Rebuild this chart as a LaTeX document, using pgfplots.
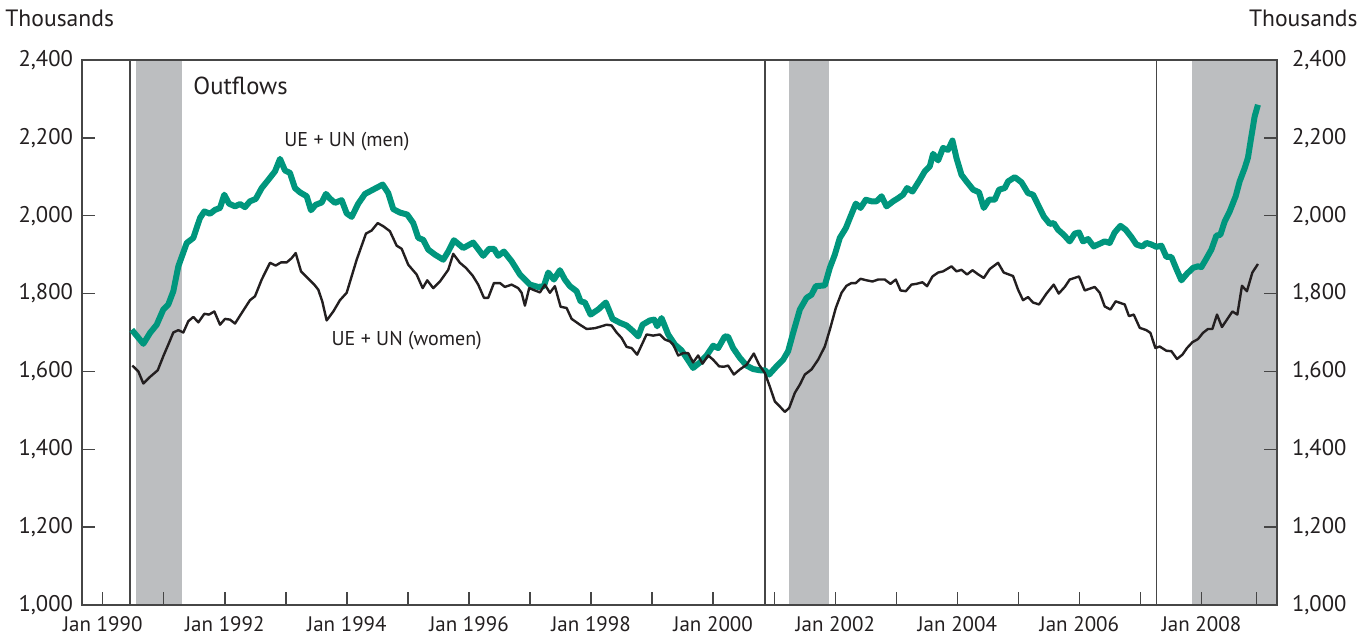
\documentclass[border=0pt]{standalone}
\usepackage{fontspec}
\setmainfont{PT Sans}
\usepackage{pgfplots}
\pgfplotsset{compat=1.18}
\definecolor{men}{RGB}{0,150,125}
\definecolor{shade}{RGB}{188,190,192}
\definecolor{ink}{RGB}{35,31,32}
\definecolor{axl}{RGB}{70,70,70}

\begin{document}
\begin{tikzpicture}
\useasboundingbox (-41pt,-18pt) rectangle (644pt,302.5pt);
\pgfplotsset{
  base/.style={
    at={(0,0)}, anchor=south west, scale only axis,
    width=597.5pt, height=272.5pt,
    xmin=1989.66, xmax=2009.237, ymin=1000, ymax=2400,
    ytick={1000,1200,1400,1600,1800,2000,2200,2400},
    yticklabels={{1,000},{1,200},{1,400},{1,600},{1,800},{2,000},{2,200},{2,400}},
    ticklabel style={font=\fontsize{10.5}{12}\selectfont, text=ink},
    yticklabel style={font=\fontsize{11.3}{13}\selectfont},
    /pgf/number format/assume math mode=true,
  }
}
\begin{axis}[base,
  axis on top,
  axis line style={axl, line width=0.7pt},
  tick align=inside, tick style={axl, line width=0.7pt}, major tick length=6.5pt,
  xtick={1990,1991,1992,1993,1994,1995,1996,1997,1998,1999,2000,2001,2002,2003,2004,2005,2006,2007,2008,2008.9},
  xticklabels={Jan 1990,,Jan 1992,,Jan 1994,,Jan 1996,,Jan 1998,,Jan 2000,,Jan 2002,,Jan 2004,,Jan 2006,,Jan 2008,},
  xtick pos=bottom, ytick pos=both, yticklabel pos=left,
  xticklabel style={yshift=-2pt},
  yticklabel style={xshift=-1pt},
]
% recession shading
\addplot[draw=none, fill=shade] coordinates {(1990.55,1000)(1990.55,2400)(1991.30,2400)(1991.30,1000)} -- cycle;
\addplot[draw=none, fill=shade] coordinates {(2001.24,1000)(2001.24,2400)(2001.89,2400)(2001.89,1000)} -- cycle;
\addplot[draw=none, fill=shade] coordinates {(2007.84,1000)(2007.84,2400)(2009.237,2400)(2009.237,1000)} -- cycle;
% peak lines
\addplot[axl, line width=0.8pt] coordinates {(1990.45,1000)(1990.45,2400)};
\addplot[axl, line width=0.8pt] coordinates {(2000.85,1000)(2000.85,2400)};
\addplot[axl, line width=0.8pt] coordinates {(2007.26,1000)(2007.26,2400)};
% men
\addplot[men, line width=3pt, line join=round] coordinates {
(1990.475,1707)(1990.665,1671)(1990.775,1699)(1990.884,1720)(1990.992,1759)(1991.074,1772)(1991.156,1806)(1991.238,1870)(1991.376,1930)(1991.484,1943)
(1991.593,1994)(1991.664,2011)(1991.757,2005)(1991.839,2015)(1991.921,2020)(1991.991,2054)(1992.068,2031)(1992.167,2024)(1992.249,2030)(1992.330,2022)
(1992.412,2037)(1992.506,2043)(1992.604,2071)(1992.712,2092)(1992.822,2114)(1992.904,2146)(1992.986,2116)(1993.067,2110)(1993.149,2071)(1993.231,2060)
(1993.341,2050)(1993.411,2014)(1993.488,2028)(1993.587,2034)(1993.657,2056)(1993.722,2044)(1993.804,2033)(1993.914,2040)(1993.996,2006)(1994.078,1997)
(1994.186,2031)(1994.296,2056)(1994.405,2065)(1994.513,2074)(1994.586,2080)(1994.677,2058)(1994.759,2017)(1994.869,2008)(1994.988,2003)(1995.087,1981)
(1995.169,1943)(1995.250,1938)(1995.332,1913)(1995.442,1900)(1995.578,1887)(1995.660,1908)(1995.753,1937)(1995.906,1917)(1996.069,1931)(1996.233,1897)
(1996.331,1915)(1996.408,1915)(1996.479,1897)(1996.572,1908)(1996.698,1883)(1996.834,1849)(1996.998,1823)(1997.134,1817)(1997.227,1819)(1997.298,1854)
(1997.391,1836)(1997.489,1860)(1997.571,1836)(1997.653,1819)(1997.763,1806)(1997.828,1780)(1997.899,1777)(1997.992,1746)(1998.116,1759)(1998.242,1777)
(1998.352,1735)(1998.472,1725)(1998.582,1718)(1998.690,1703)(1998.771,1690)(1998.843,1720)(1998.963,1731)(1999.034,1733)(1999.083,1716)(1999.155,1737)
(1999.263,1695)(1999.373,1669)(1999.482,1654)(1999.564,1635)(1999.672,1609)(1999.782,1623)(1999.892,1641)(2000.000,1666)(2000.082,1660)(2000.191,1690)
(2000.245,1689)(2000.327,1660)(2000.437,1635)(2000.547,1615)(2000.655,1606)(2000.765,1603)(2000.847,1603)(2000.917,1592)(2001.038,1613)(2001.146,1630)
(2001.228,1652)(2001.310,1699)(2001.420,1759)(2001.530,1789)(2001.611,1797)(2001.682,1819)(2001.829,1821)(2001.911,1866)(2001.993,1900)(2002.075,1943)
(2002.173,1968)(2002.250,1998)(2002.337,2031)(2002.414,2020)(2002.501,2041)(2002.594,2037)(2002.676,2037)(2002.758,2050)(2002.840,2024)(2002.948,2037)
(2003.030,2045)(2003.111,2054)(2003.177,2071)(2003.265,2062)(2003.385,2092)(2003.467,2114)(2003.549,2127)(2003.603,2159)(2003.685,2142)(2003.766,2174)
(2003.848,2169)(2003.920,2193)(2003.986,2148)(2004.068,2105)(2004.150,2088)(2004.258,2067)(2004.356,2060)(2004.433,2020)(2004.520,2041)(2004.613,2041)
(2004.684,2067)(2004.777,2071)(2004.831,2088)(2004.941,2099)(2005.050,2086)(2005.158,2058)(2005.240,2054)(2005.322,2028)(2005.416,1998)(2005.514,1979)
(2005.579,1981)(2005.650,1964)(2005.743,1951)(2005.841,1934)(2005.923,1954)(2005.993,1957)(2006.059,1934)(2006.141,1940)(2006.234,1921)(2006.333,1928)
(2006.414,1934)(2006.496,1930)(2006.578,1957)(2006.672,1974)(2006.758,1964)(2006.852,1945)(2006.934,1926)(2007.032,1921)(2007.097,1930)(2007.179,1926)
(2007.261,1920)(2007.343,1923)(2007.425,1894)(2007.507,1894)(2007.589,1863)(2007.671,1834)(2007.762,1851)(2007.861,1866)(2007.942,1870)(2007.998,1868)
(2008.069,1887)(2008.162,1913)(2008.244,1949)(2008.309,1951)(2008.380,1985)(2008.462,2011)(2008.560,2050)(2008.625,2088)(2008.707,2122)(2008.761,2149)
(2008.817,2204)(2008.871,2255)(2008.925,2285)
};
% women
\addplot[ink, line width=1.2pt, line join=round] coordinates {
(1990.485,1615)(1990.583,1600)(1990.665,1569)(1990.775,1586)(1990.901,1603)(1990.992,1639)(1991.074,1669)(1991.156,1700)(1991.238,1706)(1991.320,1700)
(1991.402,1729)(1991.484,1740)(1991.566,1726)(1991.664,1748)(1991.741,1746)(1991.828,1754)(1991.921,1720)(1992.003,1735)(1992.085,1733)(1992.167,1723)
(1992.276,1750)(1992.412,1783)(1992.494,1793)(1992.604,1836)(1992.740,1879)(1992.833,1872)(1992.920,1880)(1993.013,1880)(1993.095,1891)(1993.161,1904)
(1993.248,1857)(1993.357,1840)(1993.465,1823)(1993.531,1810)(1993.596,1780)(1993.668,1731)(1993.777,1754)(1993.886,1783)(1993.996,1802)(1994.160,1887)
(1994.312,1954)(1994.405,1962)(1994.504,1981)(1994.595,1973)(1994.705,1960)(1994.815,1923)(1994.897,1915)(1995.005,1874)(1995.142,1849)(1995.241,1814)
(1995.316,1834)(1995.414,1814)(1995.524,1831)(1995.660,1861)(1995.742,1902)(1995.851,1879)(1995.950,1866)(1996.060,1846)(1996.151,1823)(1996.245,1789)
(1996.315,1789)(1996.408,1827)(1996.507,1827)(1996.588,1817)(1996.698,1823)(1996.806,1814)(1996.862,1802)(1996.916,1769)(1996.986,1814)(1997.080,1808)
(1997.162,1803)(1997.243,1823)(1997.325,1802)(1997.407,1819)(1997.501,1766)(1997.599,1763)(1997.681,1735)(1997.817,1720)(1997.927,1709)(1998.062,1711)
(1998.172,1716)(1998.254,1720)(1998.336,1718)(1998.418,1700)(1998.500,1686)(1998.582,1663)(1998.664,1660)(1998.755,1643)(1998.909,1695)(1999.017,1692)
(1999.127,1695)(1999.209,1682)(1999.291,1677)(1999.345,1669)(1999.427,1641)(1999.509,1647)(1999.591,1647)(1999.672,1623)(1999.754,1641)(1999.826,1620)
(1999.918,1641)(2000.000,1630)(2000.098,1613)(2000.175,1612)(2000.245,1615)(2000.339,1592)(2000.437,1605)(2000.547,1617)(2000.666,1646)(2000.753,1617)
(2000.847,1596)(2000.928,1561)(2001.010,1523)(2001.092,1510)(2001.174,1496)(2001.245,1506)(2001.338,1545)(2001.420,1566)(2001.502,1592)(2001.611,1605)
(2001.719,1630)(2001.829,1664)(2001.911,1707)(2002.009,1763)(2002.103,1802)(2002.184,1820)(2002.266,1827)(2002.337,1827)(2002.414,1838)(2002.512,1834)
(2002.610,1831)(2002.702,1836)(2002.812,1836)(2002.905,1825)(2002.992,1836)(2003.069,1808)(2003.156,1806)(2003.249,1823)(2003.331,1825)(2003.429,1829)
(2003.504,1819)(2003.593,1844)(2003.685,1854)(2003.766,1857)(2003.904,1870)(2003.986,1857)(2004.068,1861)(2004.159,1849)(2004.248,1860)(2004.335,1850)
(2004.433,1840)(2004.531,1863)(2004.667,1879)(2004.760,1854)(2004.913,1845)(2004.995,1810)(2005.076,1783)(2005.158,1791)(2005.240,1777)(2005.339,1772)
(2005.460,1800)(2005.579,1823)(2005.661,1800)(2005.760,1817)(2005.841,1836)(2005.993,1844)(2006.087,1808)(2006.251,1817)(2006.333,1802)(2006.414,1767)
(2006.508,1759)(2006.594,1780)(2006.742,1772)(2006.812,1742)(2006.890,1746)(2006.988,1712)(2007.097,1706)(2007.163,1699)(2007.245,1660)(2007.315,1664)
(2007.425,1653)(2007.507,1652)(2007.599,1632)(2007.687,1643)(2007.762,1660)(2007.851,1675)(2007.942,1683)(2008.024,1699)(2008.106,1709)(2008.178,1709)
(2008.254,1746)(2008.335,1714)(2008.417,1733)(2008.506,1754)(2008.587,1746)(2008.663,1820)(2008.744,1806)(2008.833,1854)(2008.925,1876)
};
\node[anchor=west, font=\fontsize{12.3}{14}\selectfont, text=ink, inner sep=0pt] at (axis cs:1991.48,2333) {Outflows};
\node[font=\fontsize{10}{12}\selectfont, text=ink, inner sep=0pt] at (axis cs:1994.0,2190) {UE + UN (men)};
\node[font=\fontsize{10}{12}\selectfont, text=ink, inner sep=0pt] at (axis cs:1994.98,1680) {UE + UN (women)};
\end{axis}
\begin{axis}[base,
  hide x axis, axis y line*=right, axis line style={draw=none},
  major tick length=0pt, yticklabel pos=right,
  yticklabel style={xshift=4pt},
]
\end{axis}
\node[anchor=west, inner sep=0pt, font=\fontsize{11.8}{13}\selectfont, text=ink] at (-38.5pt,293.5pt) {Thousands};
\node[anchor=east, inner sep=0pt, font=\fontsize{11.8}{13}\selectfont, text=ink] at (638pt,293.5pt) {Thousands};
\end{tikzpicture}
\end{document}
